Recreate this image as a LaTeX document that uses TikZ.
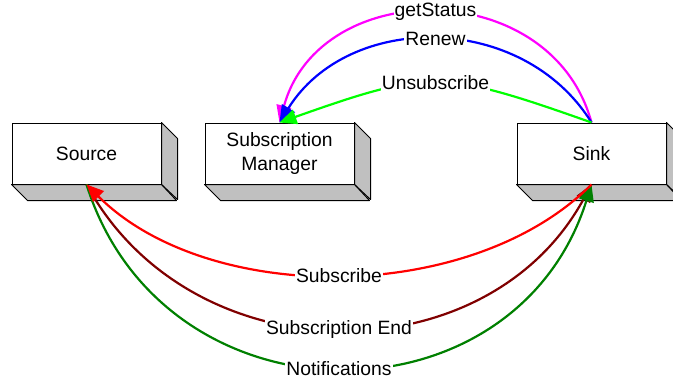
\documentclass[tikz,border=0pt]{standalone}
\usepackage{fontspec}
\setmainfont{Liberation Sans}
\usetikzlibrary{arrows.meta}
\definecolor{sidegray}{RGB}{192,192,192}
\definecolor{lime}{RGB}{0,255,0}
\definecolor{darkred}{RGB}{128,0,0}
\definecolor{dgreen}{RGB}{0,128,0}
\definecolor{mag}{RGB}{255,0,255}
\begin{document}
\begin{tikzpicture}[x=1pt,y=-1pt,
  box/.style={draw=black,line width=1pt,fill=white,minimum width=149pt,minimum height=61pt,
    inner sep=0pt,align=center,font=\fontsize{19.3}{23.5}\selectfont},
  face/.style={draw=black,line width=1pt,fill=sidegray,line join=round},
  conn/.style={line width=2.2pt,-{Triangle[length=17pt,width=15pt]}},
  lab/.style={fill=white,inner sep=1pt,font=\fontsize{19.3}{22}\selectfont}]
\useasboundingbox (0,0) rectangle (673,381);
\node[box] (source) at (86.5,153.5) {Source};
\node[box] (sm) at (279.5,153.5) {Subscription\\Manager};
\node[box] (sink) at (591.5,153.5) {Sink};
\foreach \n in {source,sm,sink}{
  \draw[face] (\n.north east) -- ++(16,16) -- ++(0,61) -- (\n.south east) -- cycle;
  \draw[face] (\n.south west) -- ++(16,16) -- ++(149,0) -- (\n.south east) -- cycle;
}
% top arcs
\draw[conn,mag] (sink.north) .. controls +(-40,-147) and +(40,-147) .. (sm.north)
  node[lab,pos=0.5,text=black] {getStatus};
\draw[conn,blue] (sink.north) .. controls +(-69,-111) and +(69,-111) .. (sm.north)
  node[lab,pos=0.5,text=black] {Renew};
\draw[conn,lime] (sink.north) .. controls +(-150,-53) and +(150,-53) .. (sm.north)
  node[lab,pos=0.5,text=black] {Unsubscribe};
% bottom arcs
\draw[conn,darkred] (source.south) .. controls +(105,193) and +(-105,193) .. (sink.south)
  node[lab,pos=0.5,text=black] {Subscription End};
\draw[conn,dgreen] (source.south) .. controls +(77,245) and +(-77,245) .. (sink.south)
  node[lab,pos=0.5,text=black] {Notifications};
\draw[conn,red] (sink.south) .. controls +(-121,121) and +(121,121) .. (source.south)
  node[lab,pos=0.5,text=black] {Subscribe};
\end{tikzpicture}
\end{document}
